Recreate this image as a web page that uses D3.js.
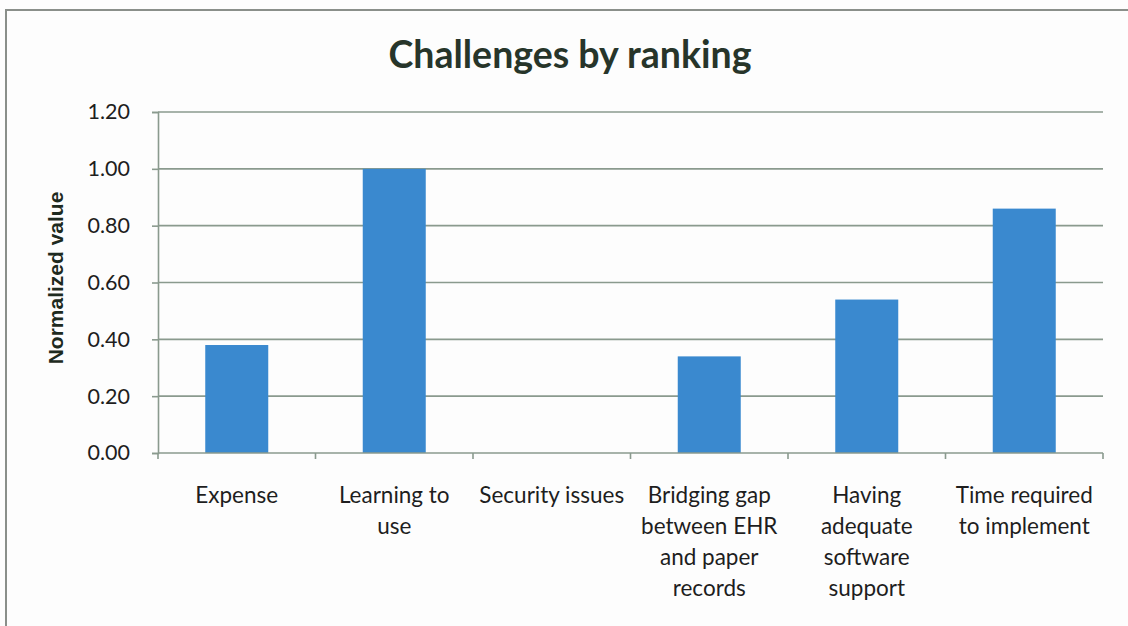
<!DOCTYPE html>
<html><head><meta charset="utf-8">
<script src="https://cdn.jsdelivr.net/npm/d3@7"></script>
<style>body{margin:0;background:#fdfdfd;} svg{display:block;}</style>
</head><body>
<svg id="c" width="1128" height="626"></svg>
<script>
const categories = [
  ["Expense"],
  ["Learning to", "use"],
  ["Security issues"],
  ["Bridging gap", "between EHR", "and paper", "records"],
  ["Having", "adequate", "software", "support"],
  ["Time required", "to implement"]
];
const values = [0.38, 1.00, 0.00, 0.34, 0.54, 0.86];
const yTicks = [0, 0.2, 0.4, 0.6, 0.8, 1.0, 1.2];
const title = "Challenges by ranking";
const yLabel = "Normalized value";

(function(){
const svg = d3.select("#c");
const font = "Lato, 'Open Sans', sans-serif";
const pLeft = 158, pRight = 1103, pTop = 112, pBottom = 453;
const ids = categories.map((d,i)=>i);

svg.append("rect").attr("x",6).attr("y",10).attr("width",1140).attr("height",640)
  .attr("fill","#fdfdfd").attr("stroke","#8a8f8a").attr("stroke-width",2);

const x = d3.scaleBand().domain(ids).range([pLeft,pRight]).paddingInner(0.6).paddingOuter(0.3);
const y = d3.scaleLinear().domain([0,1.2]).range([pBottom,pTop]);

svg.append("g").selectAll("line").data(yTicks.slice(1)).join("line")
  .attr("x1",pLeft).attr("x2",pRight).attr("y1",d=>y(d)).attr("y2",d=>y(d))
  .attr("stroke","#8a9a8e").attr("stroke-width",1.6);

const ya = svg.append("g").attr("transform",`translate(${pLeft},0)`)
  .call(d3.axisLeft(y).tickValues(yTicks).tickFormat(d3.format(".2f")).tickSize(6).tickPadding(22));
ya.select(".domain").attr("stroke","#8a9a8e").attr("stroke-width",1.6);
ya.selectAll(".tick line").attr("stroke","#8a9a8e").attr("stroke-width",1.6);
ya.selectAll("text").attr("font-family",font).attr("font-size",21.5).attr("fill","#1e1e1e");

svg.append("g").selectAll("rect").data(values).join("rect")
  .attr("x",(d,i)=>x(i)).attr("width",x.bandwidth())
  .attr("y",d=>y(d)).attr("height",d=>y(0)-y(d)).attr("fill","#3a89cf");

const step = x.step();
const xTickPos = d3.range(categories.length+1).map(i=>pLeft + i*step);
svg.append("line").attr("x1",pLeft).attr("x2",pRight).attr("y1",pBottom).attr("y2",pBottom)
  .attr("stroke","#8a9a8e").attr("stroke-width",1.6);
svg.append("g").selectAll("line").data(xTickPos).join("line")
  .attr("x1",d=>d).attr("x2",d=>d).attr("y1",pBottom).attr("y2",pBottom+6)
  .attr("stroke","#8a9a8e").attr("stroke-width",1.6);

const xl = svg.append("g").selectAll("text").data(categories).join("text")
  .attr("x",(d,i)=>x(i)+x.bandwidth()/2).attr("y",503)
  .attr("text-anchor","middle").attr("font-family",font).attr("font-size",22.5).attr("fill","#1e1e1e");
xl.selectAll("tspan").data(d=>d).join("tspan")
  .attr("x",function(){return this.parentNode.getAttribute("x");})
  .attr("dy",(d,i)=>i===0?0:31).text(d=>d);

svg.append("text").attr("x",570).attr("y",68).attr("text-anchor","middle")
  .attr("font-family",font).attr("font-weight","bold").attr("font-size",37.5).attr("fill","#27352a").text(title);

svg.append("text").attr("transform","translate(63,278) rotate(-90)").attr("text-anchor","middle")
  .attr("font-family","'Liberation Sans', Arial, sans-serif").attr("font-weight","bold").attr("font-size",21).attr("fill","#1e2a20").text(yLabel);
})();
</script>
</body></html>
